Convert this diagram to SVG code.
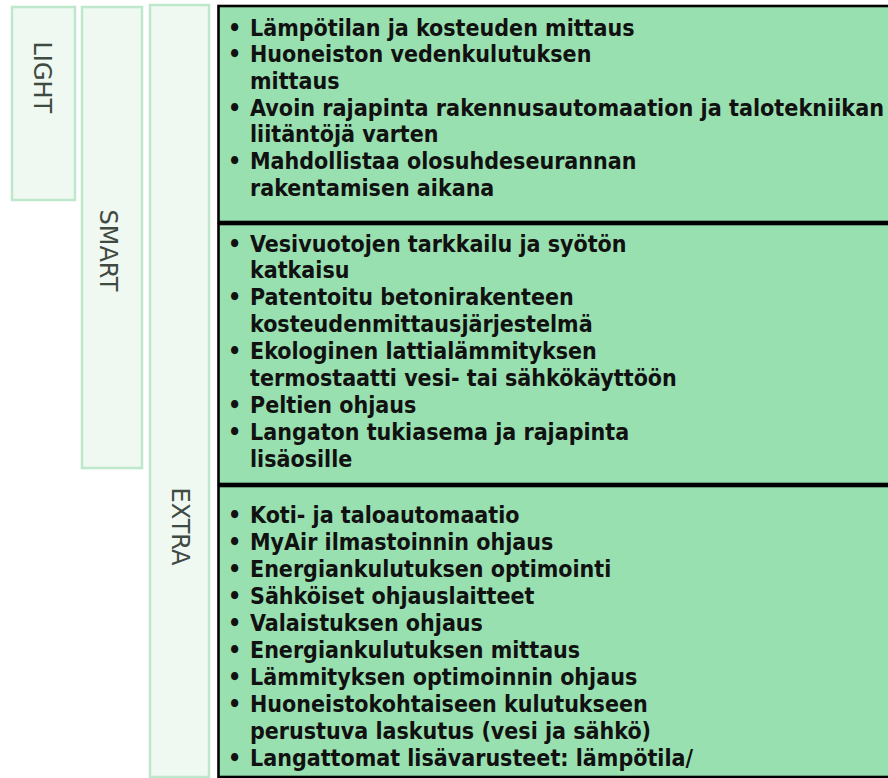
<svg xmlns="http://www.w3.org/2000/svg" width="888" height="778" viewBox="0 0 888 778">
<style>
.lbl{fill:#eff9f2;stroke:#bde8cc;stroke-width:2.5}
.lt{font-family:"DejaVu Sans",Verdana,sans-serif;font-size:24px;fill:#3f4a43}
.pan{fill:#99e0b0;stroke:#000;stroke-width:2.6}
.t{font-family:"DejaVu Sans Condensed","DejaVu Sans",sans-serif;font-stretch:condensed;font-weight:bold;font-size:23px;fill:#111}
</style>
<rect width="888" height="778" fill="#fff"/>
<g id="light">
<rect class="lbl" x="12" y="7" width="63" height="193"/>
<text class="lt" transform="translate(33.5,41.5) rotate(90)">LIGHT</text>
</g>
<g id="smart">
<rect class="lbl" x="82" y="7" width="60" height="461"/>
<text class="lt" transform="translate(99.5,209.5) rotate(90)">SMART</text>
</g>
<g id="extra">
<rect class="lbl" x="150" y="5" width="59" height="772"/>
<text class="lt" transform="translate(172,487.5) rotate(90)">EXTRA</text>
</g>
<g id="panel-light">
<rect class="pan" x="218.5" y="6" width="700" height="216"/>
<g class="t">
<text x="228" y="35.5">•</text><text x="250" y="35.5">Lämpötilan ja kosteuden mittaus</text>
<text x="228" y="62.2">•</text><text x="250" y="62.2">Huoneiston vedenkulutuksen</text>
<text x="250" y="88.8">mittaus</text>
<text x="228" y="115.5">•</text><text x="250" y="115.5" textLength="634" lengthAdjust="spacingAndGlyphs">Avoin rajapinta rakennusautomaation ja talotekniikan</text>
<text x="250" y="142.2">liitäntöjä varten</text>
<text x="228" y="168.8">•</text><text x="250" y="168.8">Mahdollistaa olosuhdeseurannan</text>
<text x="250" y="195.5">rakentamisen aikana</text>
</g>
</g>
<g id="panel-smart">
<rect class="pan" x="218.5" y="224" width="700" height="260"/>
<g class="t">
<text x="228" y="251.5">•</text><text x="250" y="251.5">Vesivuotojen tarkkailu ja syötön</text>
<text x="250" y="278.4">katkaisu</text>
<text x="228" y="305.3">•</text><text x="250" y="305.3">Patentoitu betonirakenteen</text>
<text x="250" y="332.2">kosteudenmittausjärjestelmä</text>
<text x="228" y="359.1">•</text><text x="250" y="359.1">Ekologinen lattialämmityksen</text>
<text x="250" y="386">termostaatti vesi- tai sähkökäyttöön</text>
<text x="228" y="412.9">•</text><text x="250" y="412.9">Peltien ohjaus</text>
<text x="228" y="439.8">•</text><text x="250" y="439.8">Langaton tukiasema ja rajapinta</text>
<text x="250" y="466.7">lisäosille</text>
</g>
</g>
<g id="panel-extra">
<rect class="pan" x="218.5" y="486" width="700" height="291"/>
<g class="t">
<text x="228" y="522.5">•</text><text x="250" y="522.5">Koti- ja taloautomaatio</text>
<text x="228" y="549.5">•</text><text x="250" y="549.5">MyAir ilmastoinnin ohjaus</text>
<text x="228" y="576.5">•</text><text x="250" y="576.5">Energiankulutuksen optimointi</text>
<text x="228" y="603.5">•</text><text x="250" y="603.5">Sähköiset ohjauslaitteet</text>
<text x="228" y="630.5">•</text><text x="250" y="630.5">Valaistuksen ohjaus</text>
<text x="228" y="657.5">•</text><text x="250" y="657.5">Energiankulutuksen mittaus</text>
<text x="228" y="684.5">•</text><text x="250" y="684.5">Lämmityksen optimoinnin ohjaus</text>
<text x="228" y="711.5">•</text><text x="250" y="711.5">Huoneistokohtaiseen kulutukseen</text>
<text x="250" y="738.5">perustuva laskutus (vesi ja sähkö)</text>
<text x="228" y="765.5">•</text><text x="250" y="765.5">Langattomat lisävarusteet: lämpötila/</text>
</g>
</g>
<g id="connectors"/>
</svg>
